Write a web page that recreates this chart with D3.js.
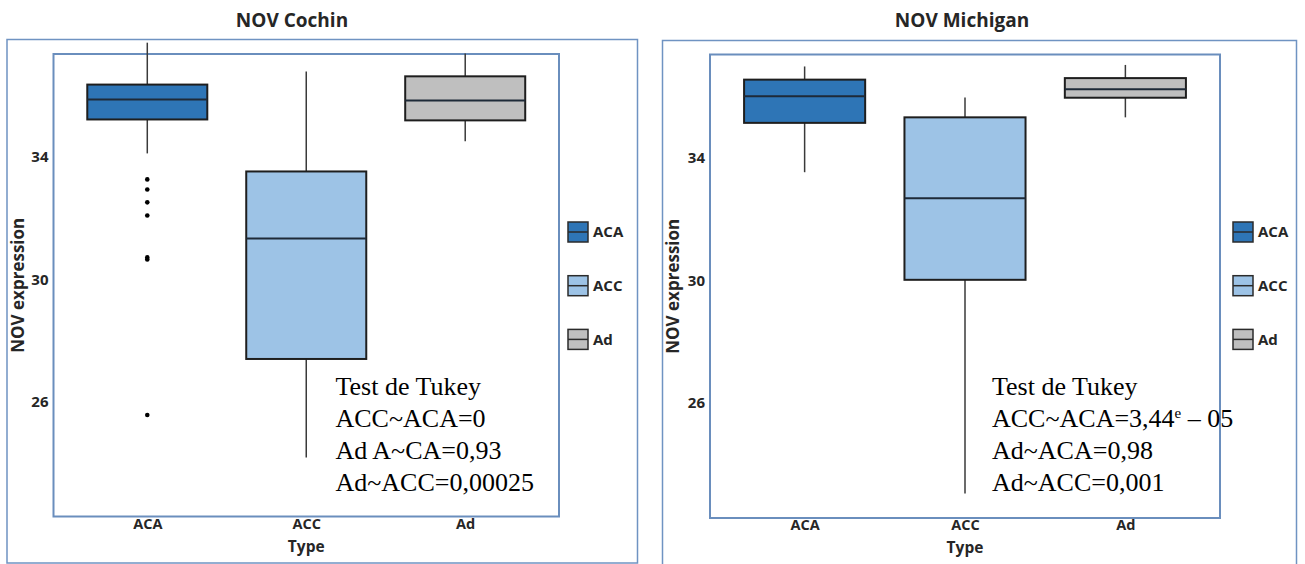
<!DOCTYPE html>
<html>
<head>
<meta charset="utf-8">
<script src="https://cdn.jsdelivr.net/npm/d3@7"></script>
<style>
  html, body { margin: 0; padding: 0; background: #ffffff; }
  svg { display: block; }
  .lbl { font-family: "Open Sans", "Noto Sans", sans-serif; font-weight: 700; fill: #262626; }
  .tukey { font-family: "Liberation Serif", "Times New Roman", serif; fill: #000; }
</style>
</head>
<body>
<svg id="chart" width="1305" height="564"></svg>
<script>
// ---------------- data ----------------
const categories = ["ACA", "ACC", "Ad"];
const categoryColors = ["#2E75B6", "#9DC3E6", "#BFBFBF"];
const yTicks = [26, 30, 34];
const yDomain = [22.25, 37.37];

// NOV Cochin
const cochinLowWhisker  = [34.12, 24.18, 34.52];
const cochinQ1          = [35.23, 27.40, 35.20];
const cochinMedian      = [35.88, 31.34, 35.85];
const cochinQ3          = [36.37, 33.53, 36.64];
const cochinHighWhisker = [37.74, 36.80, 37.39];
const cochinOutliersACA = [33.27, 32.94, 32.52, 32.09, 30.72, 30.65, 25.57];
const cochinTukey = ["Test de Tukey", "ACC~ACA=0", "Ad A~CA=0,93", "Ad~ACC=0,00025"];

// NOV Michigan
const michiganLowWhisker  = [33.53, 23.05, 35.32];
const michiganQ1          = [35.14, 30.02, 35.96];
const michiganMedian      = [36.01, 32.68, 36.24];
const michiganQ3          = [36.55, 35.32, 36.60];
const michiganHighWhisker = [36.98, 35.97, 37.03];
const michiganOutliersACA = [];
const michiganTukey = ["Test de Tukey", ["ACC~ACA=3,44", "e", " – 05"], "Ad~ACA=0,98", "Ad~ACC=0,001"];

// ---------------- layout ----------------
const panels = [
  {
    title: "NOV Cochin", titleX: 292,
    outer: {x0: 7, x1: 637.5, y0: 39.5, y1: 563},
    inner: {x0: 53.5, x1: 559, y0: 54, y1: 516.5},
    legendX: 568,
    low: cochinLowWhisker, q1: cochinQ1, med: cochinMedian, q3: cochinQ3, high: cochinHighWhisker,
    outliers: cochinOutliersACA, tukey: cochinTukey
  },
  {
    title: "NOV Michigan", titleX: 962,
    outer: {x0: 662.5, x1: 1296.5, y0: 40.5, y1: 572},
    inner: {x0: 710, x1: 1220, y0: 54.5, y1: 518},
    legendX: 1233,
    low: michiganLowWhisker, q1: michiganQ1, med: michiganMedian, q3: michiganQ3, high: michiganHighWhisker,
    outliers: michiganOutliersACA, tukey: michiganTukey
  }
];

const svg = d3.select("#chart");

panels.forEach(p => {
  const g = svg.append("g");
  const x = d3.scalePoint().domain(categories).range([p.inner.x0, p.inner.x1]).padding(0.59);
  const boxW = x.step() * 0.755;
  const y = d3.scaleLinear().domain(yDomain).range([p.inner.y1, p.inner.y0]);

  // outer frame
  g.append("rect")
    .attr("x", p.outer.x0).attr("y", p.outer.y0)
    .attr("width", p.outer.x1 - p.outer.x0).attr("height", p.outer.y1 - p.outer.y0)
    .attr("fill", "none").attr("stroke", "#6F93C2").attr("stroke-width", 1.5);

  // inner plot frame
  g.append("rect")
    .attr("x", p.inner.x0).attr("y", p.inner.y0)
    .attr("width", p.inner.x1 - p.inner.x0).attr("height", p.inner.y1 - p.inner.y0)
    .attr("fill", "none").attr("stroke", "#6A8EBD").attr("stroke-width", 2);

  // title
  g.append("text").attr("class", "lbl")
    .attr("x", p.titleX).attr("y", 20).attr("dy", "0.35em")
    .attr("text-anchor", "middle").style("font-size", "19px")
    .text(p.title);

  // y axis
  const ya = g.append("g").attr("transform", `translate(${p.inner.x0},0)`)
    .call(d3.axisLeft(y).tickValues(yTicks).tickSize(0).tickPadding(5).tickFormat(d3.format("d")));
  ya.select(".domain").remove();
  ya.selectAll("text").attr("class", "lbl").style("font-size", "15px").attr("font-family", null);

  // x axis
  const xa = g.append("g").attr("transform", `translate(0,${p.inner.y1})`)
    .call(d3.axisBottom(x).tickSize(0).tickPadding(2));
  xa.select(".domain").remove();
  xa.selectAll("text").attr("class", "lbl").style("font-size", "14.5px").attr("font-family", null);

  // axis titles
  const cx = (p.inner.x0 + p.inner.x1) / 2;
  g.append("text").attr("class", "lbl")
    .attr("x", cx).attr("y", p.inner.y1 + 35)
    .attr("text-anchor", "middle").style("font-size", "15.5px").text("Type");
  g.append("text").attr("class", "lbl")
    .attr("transform", `translate(${p.outer.x0 + 11},${(p.inner.y0 + p.inner.y1) / 2}) rotate(-90)`)
    .attr("dy", "0.35em").attr("text-anchor", "middle").style("font-size", "17px")
    .text("NOV expression");

  // boxes
  const boxes = g.append("g").selectAll("g").data(categories).join("g");
  boxes.append("line")
    .attr("x1", d => x(d)).attr("x2", d => x(d))
    .attr("y1", (d, i) => y(p.q3[i])).attr("y2", (d, i) => y(p.high[i]))
    .attr("stroke", "#3a3a3a").attr("stroke-width", 1.5);
  boxes.append("line")
    .attr("x1", d => x(d)).attr("x2", d => x(d))
    .attr("y1", (d, i) => y(p.q1[i])).attr("y2", (d, i) => y(p.low[i]))
    .attr("stroke", "#3a3a3a").attr("stroke-width", 1.5);
  boxes.append("rect")
    .attr("x", d => x(d) - boxW / 2).attr("width", boxW)
    .attr("y", (d, i) => y(p.q3[i])).attr("height", (d, i) => y(p.q1[i]) - y(p.q3[i]))
    .attr("fill", (d, i) => categoryColors[i]).attr("stroke", "#1e1e1e").attr("stroke-width", 2);
  boxes.append("line")
    .attr("x1", d => x(d) - boxW / 2).attr("x2", d => x(d) + boxW / 2)
    .attr("y1", (d, i) => y(p.med[i])).attr("y2", (d, i) => y(p.med[i]))
    .attr("stroke", "#1e2a38").attr("stroke-width", 2);

  // outliers (ACA)
  g.append("g").selectAll("circle").data(p.outliers).join("circle")
    .attr("cx", x("ACA")).attr("cy", d => y(d)).attr("r", 2.3).attr("fill", "#000");

  // legend
  const leg = g.append("g").selectAll("g").data(categories).join("g")
    .attr("transform", (d, i) => `translate(${p.legendX},${232 + i * 53.7})`);
  leg.append("rect").attr("x", 0).attr("y", -10).attr("width", 20).attr("height", 20)
    .attr("fill", (d, i) => categoryColors[i]).attr("stroke", "#2b2b2b").attr("stroke-width", 1.5);
  leg.append("line").attr("x1", 0).attr("x2", 20).attr("y1", 0).attr("y2", 0)
    .attr("stroke", "#2b2b2b").attr("stroke-width", 1.5);
  leg.append("text").attr("class", "lbl").attr("x", 25).attr("dy", "0.35em")
    .style("font-size", "15px").text(d => d);

  // Tukey annotation
  const tk = g.append("text").attr("class", "tukey").style("font-size", "26px");
  p.tukey.forEach((line, i) => {
    const base = 395 + i * 32;
    if (Array.isArray(line)) {
      const t = tk.append("tspan").attr("x", p.inner.x0 + 282).attr("y", base);
      t.text(line[0]);
      tk.append("tspan").attr("dy", -9).style("font-size", "15px").text(line[1]);
      tk.append("tspan").attr("dy", 9).text(line[2]);
    } else {
      tk.append("tspan").attr("x", p.inner.x0 + 282).attr("y", base).text(line);
    }
  });
});
</script>
</body>
</html>
